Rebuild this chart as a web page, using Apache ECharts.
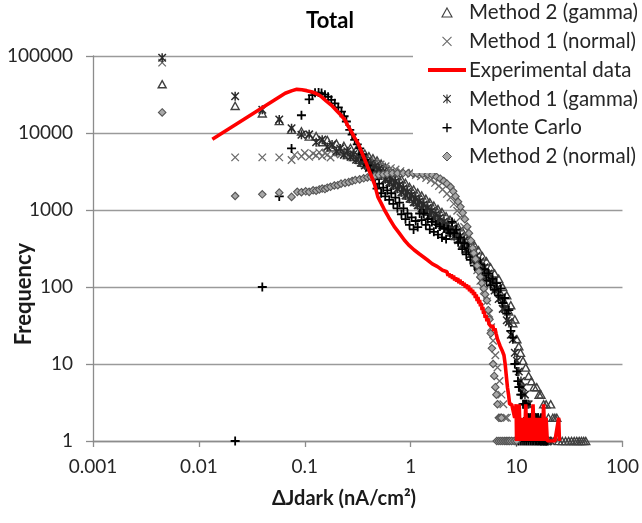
<!DOCTYPE html>
<html>
<head>
<meta charset="utf-8">
<script src="https://cdn.jsdelivr.net/npm/echarts@6/dist/echarts.min.js"></script>
<style>
  html, body { margin: 0; padding: 0; background: #fff; }
  #chart { width: 642px; height: 523px; }
</style>
</head>
<body>
<div id="chart"></div>
<script>
// Tick labels for the two log axes
const xTickLabels = ['0.001', '0.01', '0.1', '1', '10', '100'];
const yTickLabels = ['1', '10', '100', '1000', '10000', '100000'];

// Series names, in drawing order (later ones on top)
const seriesNames = ['Method 2 (gamma)', 'Method 1 (normal)', 'Experimental data',
                     'Method 1 (gamma)', 'Monte Carlo', 'Method 2 (normal)'];

// Histogram points: [ΔJdark (nA/cm²), frequency]
const method2Gamma = [
  [0.0045,43000],[0.022,22500],[0.0397,18000],[0.0574,14300],
  [0.075,11000],[0.093,10500],[0.11,9000],[0.128,9100],[0.146,7600],[0.163,8100],[0.181,6500],
  [0.199,7300],[0.216,5800],[0.234,6800],[0.252,5200],[0.27,6400],[0.287,4900],[0.305,6000],
  [0.323,4500],[0.338,5700],[0.353,4100],[0.369,5400],[0.386,3900],[0.403,5000],[0.421,3600],
  [0.44,4700],[0.46,3350],[0.481,4400],[0.503,3100],[0.526,4000],[0.55,2800],[0.575,3600],
  [0.601,2550],[0.628,3300],[0.656,2300],[0.686,3000],[0.717,2100],[0.749,2750],[0.783,1900],
  [0.818,2500],[0.855,1700],[0.893,2250],[0.933,1550],[0.975,2000],[1.02,1400],[1.065,1850],
  [1.115,1270],[1.165,1680],[1.215,1160],[1.27,1540],[1.33,1060],[1.39,1400],[1.45,960],
  [1.515,1260],[1.585,860],[1.655,1140],[1.73,790],[1.81,1030],[1.89,710],[1.975,940],
  [2.065,630],[2.16,830],[2.255,570],[2.355,750],[2.46,510],[2.575,670],[2.69,460],[2.81,600],
  [2.935,410],[3.07,530],[3.205,360],[3.35,460],[3.5,310],[3.66,400],[3.825,270],[4.0,350],
  [4.18,230],[4.365,300],[4.56,195],[4.77,250],[4.98,165],[5.2,215],[5.44,140],[5.68,180],
  [5.94,118],[6.2,150],[6.48,98],[6.77,128],[7.08,82],[7.4,100],[7.73,63],[8.08,78],[8.44,48],
  [8.82,58],[9.22,34],[9.63,38],[10.07,21],
  [10.5,17],[10.9,14],[11.5,11],[12.2,9],[13,7],[13.8,6],[14.6,5],[15.5,5],[16.3,4],[17,4],
  [18,3],[19,3],[20,2],[21,3],[22,2],[23,2],[24,2],[25,1],[27,1],[29,1],[31,1],[33,1],
  [35,1],[37,1],[39,1],[41,1],[43,1],[45,1]
];

const method1Normal = [
  [0.0045,82000],[0.022,4830],[0.0397,4830],[0.0574,4830],[0.075,4470],[0.08,5200],
  [0.093,5000],[0.1,5500],[0.11,4900],[0.12,5400],[0.128,5100],[0.137,5600],[0.146,5000],
  [0.155,5500],[0.163,5200],[0.175,4800],[0.19,5300],[0.205,5600],[0.22,5300],[0.24,5500],
  [0.26,5200],[0.28,5000],[0.3,4900],[0.33,4700],[0.37,4500],[0.41,4300],[0.46,4100],
  [0.52,3900],[0.58,3700],[0.65,3500],[0.72,3350],[0.8,3200],[0.9,3050],[1.0,2950],
  [1.12,2850],[1.25,2750],[1.4,2600],[1.55,2450],[1.7,2250],[1.85,2050],[2.0,1850],
  [2.2,1620],[2.38,1450],[2.55,1200],[2.75,980],[2.95,800],[3.2,600],[3.42,450],[3.7,320],
  [3.95,224],[4.25,165],[4.55,120],[4.9,90],[5.25,65],[5.5,45],[5.75,30],[6.0,20],[6.3,13],
  [6.6,9],[6.9,6],[7.2,4],[7.5,3],[7.8,2],[8.1,2],[8.4,1],[8.8,1],[9.2,1],[9.6,1]
];

const experimental = [
  [0.0134,8300],[0.0653,32800],[0.076,35500],[0.084,36900],[0.094,36500],[0.104,35500],
  [0.115,34300],[0.125,33000],[0.135,31300],[0.144,29500],[0.16,26000],[0.179,22900],
  [0.2,19500],[0.22,17000],[0.239,14800],[0.255,12500],[0.275,10400],[0.295,8700],
  [0.318,7350],[0.345,5600],[0.38,4070],[0.415,3000],[0.456,2150],[0.49,1480],[0.53,1200],
  [0.566,1000],[0.62,800],[0.7,608],[0.78,500],[0.87,408],[0.96,350],[1.08,302],[1.2,270],
  [1.32,245],[1.44,224],[1.6,200],[1.79,184],[2.0,165],
  [2.2,158],[2.25,140],[2.3,150],[2.36,134],[2.42,146],[2.48,128],[2.54,140],[2.6,122],
  [2.66,133],[2.72,118],[2.78,130],[2.85,112],[2.92,125],[2.99,108],[3.06,118],[3.13,104],
  [3.2,113],[3.28,98],[3.36,108],[3.44,94],[3.52,104],[3.6,88],[3.68,97],[3.76,84],
  [3.84,92],[3.92,79],[4.0,86],[4.08,72],[4.16,80],[4.24,66],[4.32,74],[4.4,61],[4.48,68],
  [4.56,56],[4.64,62],[4.72,50],[4.8,55],[4.88,45],[4.96,48],[5.05,40],[5.15,43],[5.25,36],
  [5.35,39],[5.5,33],[5.65,35],[5.8,30],[5.95,32],[6.1,27],[6.25,29],[6.4,25],[6.55,26],
  [6.6,21],[6.8,20],[7.0,17],[7.3,15],[7.6,13],[7.8,10],[8.0,7],[8.2,5],[8.4,4],[8.6,3],
  [9.0,3],[9.3,3],[9.6,2],[9.9,3],[10.0,1],[10.2,2],[10.4,1],[10.6,3],[10.8,1],[11.0,2],
  [11.3,1],[11.6,2],[11.9,1],[12.2,3],[12.5,1],[12.8,2],[13.1,1],[13.5,2],[13.9,1],
  [14.3,3],[14.7,1],[15.1,2],[15.5,1],[16,2],[16.5,1],[17,2],[17.5,1],[18,3],[18.5,1],
  [19,2],[19.5,1],[20,1],[21,1],[22,1],[23,1],[24,1],[25,2],[25.4,1]
];

const method1Gamma = [
  [0.0045,95000],[0.022,30000],[0.0397,20000],[0.0574,15000],
  [0.075,11500],[0.093,9500],[0.11,9600],[0.128,7600],[0.146,8200],[0.163,6600],[0.181,7100],
  [0.199,5800],[0.216,6300],[0.234,5200],[0.252,5800],[0.27,4900],[0.287,5300],[0.305,4500],
  [0.323,5000],[0.338,4100],[0.353,4600],[0.369,3800],[0.386,4300],[0.403,3500],[0.421,4000],
  [0.44,3300],[0.46,3700],[0.481,3050],[0.503,3450],[0.526,2800],[0.55,3150],[0.575,2500],
  [0.601,2850],[0.628,2280],[0.656,2600],[0.686,2080],[0.717,2350],[0.749,1890],[0.783,2120],
  [0.818,1700],[0.855,1920],[0.893,1540],[0.933,1740],[0.975,1400],[1.02,1560],[1.065,1260],
  [1.115,1420],[1.165,1150],[1.215,1300],[1.27,1050],[1.33,1190],[1.39,960],[1.45,1070],
  [1.515,860],[1.585,980],[1.655,780],[1.73,880],[1.81,700],[1.89,800],[1.975,630],
  [2.065,710],[2.16,560],[2.255,640],[2.355,510],[2.46,575],[2.575,455],[2.69,515],[2.81,405],
  [2.935,455],[3.07,355],[3.205,400],[3.35,310],[3.5,350],[3.66,265],[3.825,300],[4.0,228],
  [4.18,255],[4.365,195],[4.56,215],[4.77,165],[4.98,180],[5.2,138],[5.44,150],[5.68,112],
  [5.94,120],[6.2,90],[6.48,95],[6.77,70],[7.08,72],[7.4,52],[7.73,52],[8.08,37],[8.44,35],
  [8.82,24],[9.22,21],[9.63,14],[10.07,11],
  [10.5,8],[11,6],[11.5,5],[12,4],[12.5,3],[13,3],[13.5,2],[14,2],[15,2],[16,2],
  [17,1],[18,1],[19,1],[20,1],[21,1]
];

const monteCarlo = [
  [0.022,1],[0.0397,100],[0.0574,1500],[0.075,6300],[0.093,17000],[0.11,27300],
  [0.118,31000],[0.125,33300],[0.135,33500],[0.144,33000],[0.155,31500],[0.166,29500],
  [0.178,27000],[0.192,24300],[0.207,21500],[0.222,19000],[0.235,16500],[0.247,14100],
  [0.266,11000],[0.28,9500],[0.296,8140],[0.313,7100],[0.33,6300],[0.35,5300],[0.367,4470],
  [0.39,3800],[0.41,3300],[0.43,2800],
  [0.46,2500],[0.481,1900],[0.503,2200],[0.526,1650],[0.55,1950],[0.575,1500],[0.601,1800],
  [0.628,1350],[0.656,1650],[0.686,1200],[0.717,1450],[0.749,1050],[0.783,1250],[0.818,880],
  [0.855,1050],[0.893,760],[0.933,900],[0.975,640],[1.02,800],[1.065,560],[1.115,720],
  [1.165,600],[1.215,900],[1.27,740],[1.33,900],[1.39,640],[1.45,760],[1.515,560],[1.585,700],
  [1.655,520],[1.73,650],[1.81,480],[1.89,610],[1.975,440],[2.065,580],[2.16,420],[2.255,560],
  [2.355,500],[2.46,700],[2.575,500],[2.69,560],[2.81,380],[2.935,440],[3.07,310],[3.205,370],
  [3.35,265],[3.5,320],[3.66,225],[3.825,275],[4.0,190],[4.18,230],[4.365,165],[4.56,195],
  [4.77,140],[4.98,170],[5.2,120],[5.44,150],[5.68,105],[5.94,128],[6.2,92],[6.48,112],
  [6.77,78],[7.08,95],[7.4,62],[7.73,72],[8.08,45],[8.44,50],[8.82,27],[9.22,22],[9.63,10],
  [10.07,8],
  [10.3,6],[10.5,5],[10.7,5],[10.95,4],[11.2,4],[11.5,3],[11.8,3],[12.1,3],[12.4,3],
  [12.7,2],[13,2],[13.5,2],[14,2],[14.5,2],[15,2],[15.5,2],[16,2],[17,2],
  [10,1],[10.5,1],[11,1],[11.5,1],[12,1],[12.5,1],[13,1],[13.5,1],[14,1],[14.5,1],[15,1],
  [15.5,1],[16,1],[16.5,1],[17,1],[17.5,1],[18,1],[18.5,1],[19,1],[19.5,1]
];

const method2Normal = [
  [0.0045,18500],[0.022,1520],[0.0397,1600],[0.0574,1680],[0.075,1480],[0.085,1720],
  [0.093,1700],[0.102,1750],[0.11,1720],[0.12,1800],[0.128,1780],[0.137,1850],[0.146,1900],
  [0.155,1870],[0.163,1950],[0.175,2000],[0.19,2080],[0.205,2100],[0.22,2200],[0.24,2250],
  [0.26,2300],[0.28,2380],[0.3,2450],[0.33,2500],[0.36,2580],[0.39,2650],[0.42,2700],
  [0.46,2780],[0.5,2850],[0.55,2900],[0.6,2950],[0.67,3000],[0.75,3000],[0.85,3020],
  [0.95,3000],[1.05,3000],[1.15,2980],[1.3,2950],[1.45,2900],[1.6,2850],[1.75,2700],
  [1.9,2550],[2.05,2380],[2.2,2200],[2.38,1990],[2.52,1750],[2.65,1500],[2.8,1280],
  [2.95,1100],[3.1,920],[3.25,760],[3.42,608],[3.55,500],[3.7,400],[3.85,320],[3.95,275],
  [4.1,230],[4.25,190],[4.4,160],[4.55,135],[4.7,112],[4.9,95],[5.05,80],[5.25,67],
  [5.4,50],[5.55,38],[5.7,25],[5.85,16],[6.0,10],[6.15,7],[6.3,5],[6.45,4],[6.6,3],
  [6.8,2],[7.0,2],[7.2,2],[6.5,1],[6.8,1],[7.1,1],[7.4,1],[7.7,1],[8.0,1],[8.3,1],[8.6,1],
  [9.0,1],[9.5,1],[10,1]
];

// Marker outlines drawn as paths (stroke only, except the diamond)
const ICON_TRIANGLE = 'path://M5,0L10,9L0,9Z';
const ICON_CROSS_X = 'path://M0,0L10,10M10,0L0,10';
const ICON_STAR = 'path://M0,0L10,10M10,0L0,10M5,-1L5,11';
const ICON_PLUS = 'path://M5,0L5,10M0,5L10,5';
const ICON_DIAMOND = 'path://M5,0L10,5L5,10L0,5Z';
const ICON_LINE = 'path://M0,0L38,0L38,4L0,4Z';

const FONT = 'Lato, "Open Sans", sans-serif';
const TEXT_COLOR = '#262626';

function tickLabel(list, offset) {
  return function (v) {
    const i = Math.round(Math.log10(v)) + offset;
    return list[i] !== undefined ? list[i] : '';
  };
}

function scatter(name, data, symbol, size, fill, stroke, width) {
  return {
    name: name,
    type: 'scatter',
    data: data,
    symbol: symbol,
    symbolSize: size,
    symbolKeepAspect: true,
    itemStyle: { color: fill, borderColor: stroke, borderWidth: width, opacity: 1 },
    emphasis: { disabled: true },
    animation: false
  };
}

const chart = echarts.init(document.getElementById('chart'), null, { renderer: 'canvas' });

chart.setOption({
  backgroundColor: '#ffffff',
  animation: false,
  grid: { left: 93, right: 15, top: 56, bottom: 82 },
  legend: {
    orient: 'vertical',
    left: 413,
    top: 0,
    padding: [2, 10, 6, 15],
    backgroundColor: '#ffffff',
    itemWidth: 38,
    itemHeight: 9,
    itemGap: 7.8,
    selectedMode: false,
    textStyle: { fontFamily: FONT, fontSize: 20.5, color: TEXT_COLOR, lineHeight: 20, padding: [0, 0, 0, -2] },
    data: [
      { name: seriesNames[0], icon: ICON_TRIANGLE, itemStyle: { borderWidth: 1.1 } },
      { name: seriesNames[1], icon: ICON_CROSS_X, itemStyle: { borderWidth: 1.1 } },
      { name: seriesNames[2], icon: ICON_LINE, itemStyle: { color: '#ff0000', borderWidth: 0 } },
      { name: seriesNames[3], icon: ICON_STAR, itemStyle: { borderWidth: 1.1 } },
      { name: seriesNames[4], icon: ICON_PLUS, itemStyle: { borderWidth: 1.4 } },
      { name: seriesNames[5], icon: ICON_DIAMOND, itemStyle: { borderWidth: 1 } }
    ]
  },
  xAxis: {
    type: 'log',
    logBase: 10,
    min: 0.001,
    max: 100,
    axisLine: { show: true, lineStyle: { color: '#8c8c8c', width: 1.3 } },
    axisTick: { show: true, length: 6, lineStyle: { color: '#8c8c8c', width: 1.3 } },
    axisLabel: { formatter: tickLabel(xTickLabels, 3), fontFamily: FONT, fontSize: 19, color: TEXT_COLOR, margin: 16 },
    splitLine: { show: false },
    minorTick: { show: false }
  },
  yAxis: {
    type: 'log',
    logBase: 10,
    min: 1,
    max: 100000,
    axisLine: { show: true, lineStyle: { color: '#8c8c8c', width: 1.3 } },
    axisTick: { show: true, length: 7, lineStyle: { color: '#8c8c8c', width: 1.3 } },
    axisLabel: { formatter: tickLabel(yTickLabels, 0), fontFamily: FONT, fontSize: 19, color: TEXT_COLOR, margin: 20 },
    splitLine: { show: true, lineStyle: { color: '#9a9a9a', width: 1.3 } }
  },
  graphic: [
    { type: 'text', x: 330, y: 21,
      style: { text: 'Total', font: 'bold 22px ' + FONT, fill: '#000000', align: 'center', verticalAlign: 'middle' } },
    { type: 'text', x: 344, y: 499,
      style: { text: 'ΔJdark (nA/cm²)', font: 'bold 20px ' + FONT, fill: '#1a1a1a', align: 'center', verticalAlign: 'middle' } },
    { type: 'text', x: 24, y: 294, rotation: Math.PI / 2,
      style: { text: 'Frequency', font: 'bold 22px ' + FONT, fill: '#1a1a1a', align: 'center', verticalAlign: 'middle' } }
  ],
  series: [
    scatter(seriesNames[0], method2Gamma, ICON_TRIANGLE, 8, 'rgba(0,0,0,0)', '#404040', 1.4),
    scatter(seriesNames[1], method1Normal, ICON_CROSS_X, 7.5, 'rgba(0,0,0,0)', '#6a6a6a', 1.3),
    {
      name: seriesNames[2],
      type: 'line',
      data: experimental,
      showSymbol: false,
      symbol: 'none',
      lineStyle: { color: '#ff0000', width: 3.6 },
      itemStyle: { color: '#ff0000' },
      emphasis: { disabled: true },
      animation: false
    },
    scatter(seriesNames[3], method1Gamma, ICON_STAR, 9, 'rgba(0,0,0,0)', '#2a2a2a', 1.5),
    scatter(seriesNames[4], monteCarlo, ICON_PLUS, 9, 'rgba(0,0,0,0)', '#000000', 1.8),
    scatter(seriesNames[5], method2Normal, ICON_DIAMOND, 7.5, '#a8a8a8', '#555555', 1.1)
  ]
});
</script>
</body>
</html>
